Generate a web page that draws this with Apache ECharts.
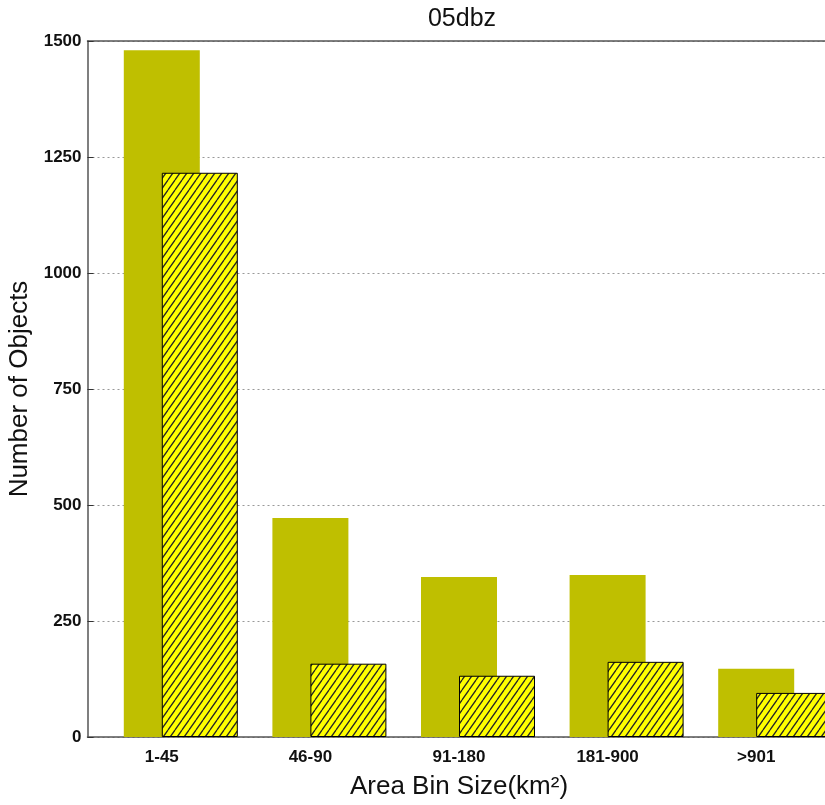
<!DOCTYPE html>
<html>
<head>
<meta charset="utf-8">
<script src="https://cdn.jsdelivr.net/npm/echarts@6/dist/echarts.min.js"></script>
<style>html,body{margin:0;padding:0;background:#fff;}#c{width:825px;height:805px;}</style>
</head>
<body>
<div id="c"></div>
<script>
const categories = ['1-45', '46-90', '91-180', '181-900', '>901'];
const seriesSolid = [1480, 472, 345, 349, 147];
const seriesHatched = [1216, 158, 132, 162, 95];
const yTicks = [0, 250, 500, 750, 1000, 1250, 1500];

function hatch() {
  const w = 7, h = 10;
  const cv = document.createElement('canvas');
  cv.width = w; cv.height = h;
  const g = cv.getContext('2d');
  g.fillStyle = '#ffff00';
  g.fillRect(0, 0, w, h);
  g.strokeStyle = '#262626';
  g.lineWidth = 1.3;
  g.beginPath();
  for (let k = -1; k <= 1; k++) {
    g.moveTo(k * w, h); g.lineTo(k * w + w, 0);
  }
  g.stroke();
  return cv;
}

const chart = echarts.init(document.getElementById('c'));
const font = 'Liberation Sans, Arial, Helvetica, sans-serif';
chart.setOption({
  animation: false,
  backgroundColor: '#fff',
  title: {
    text: '05dbz', left: 457, top: 2, textAlign: 'center',
    textStyle: { fontFamily: font, fontSize: 25, fontWeight: 'normal', color: '#111' }
  },
  grid: { left: 87.5, width: 743, top: 41, bottom: 68, outerBoundsMode: 'none', containLabel: false },
  xAxis: [{
    type: 'category', data: categories, position: 'bottom',
    axisLine: { lineStyle: { color: '#555', width: 1.5 } },
    axisTick: { inside: true, alignWithLabel: true, length: 6, lineStyle: { color: '#333' } },
    axisLabel: { fontFamily: font, fontSize: 17, fontWeight: 'bold', color: '#111', margin: 12 },
    name: 'Area Bin Size(km²)', nameLocation: 'middle', nameGap: 37,
    nameTextStyle: { fontFamily: font, fontSize: 26, color: '#111' }
  }, {
    type: 'category', data: categories, position: 'top',
    axisLine: { lineStyle: { color: '#555', width: 1.5 } },
    axisTick: { inside: true, alignWithLabel: true, length: 6, lineStyle: { color: '#333' } },
    axisLabel: { show: false }
  }],
  yAxis: {
    type: 'value', min: yTicks[0], max: yTicks[yTicks.length - 1], interval: 250,
    axisLine: { show: true, lineStyle: { color: '#555', width: 1.5 } },
    axisTick: { show: true, inside: true, length: 6, lineStyle: { color: '#333' } },
    axisLabel: { fontFamily: font, fontSize: 17, fontWeight: 'bold', color: '#111', margin: 6,
      formatter: v => String(v) },
    splitLine: { show: true, lineStyle: { type: [2, 3], color: '#999', width: 1 } },
    name: 'Number of Objects', nameLocation: 'middle', nameGap: 55, nameRotate: 90,
    nameTextStyle: { fontFamily: font, fontSize: 26, color: '#111' }
  },
  series: [{
    type: 'bar', name: 'pad', data: categories.map(() => 0), barWidth: 76, barGap: '-50%',
    itemStyle: { color: 'rgba(0,0,0,0)' }, silent: true
  }, {
    type: 'bar', name: 'solid', data: seriesSolid, barWidth: 76, barGap: '-50%',
    itemStyle: { color: '#bfbf00' }
  }, {
    type: 'bar', name: 'hatched', data: seriesHatched, barWidth: 76, barGap: '-50%',
    itemStyle: { color: { image: hatch(), repeat: 'repeat' }, borderColor: '#000', borderWidth: 1 }
  }]
});
</script>
</body>
</html>
